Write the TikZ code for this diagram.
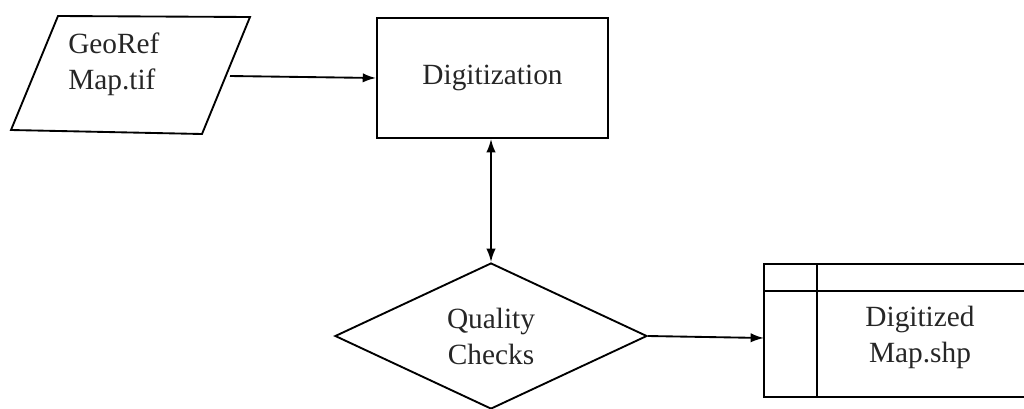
\documentclass[tikz,border=0pt]{standalone}
\usepackage{fontspec}
\setmainfont{Liberation Serif}
\usetikzlibrary{shapes.geometric,arrows.meta}
\begin{document}
\begin{tikzpicture}[x=0.75pt,y=-0.75pt,
  shapeline/.style={draw=black,line width=1.4pt},
  lbl/.style={font=\fontsize{22}{27}\selectfont,text=black!85,align=center,inner sep=0pt},
  arr/.style={line width=1.4pt,-{Latex[length=10pt,width=7pt]}},
  darr/.style={line width=1.4pt,{Latex[length=10pt,width=7pt]}-{Latex[length=10pt,width=7pt]}}]
\useasboundingbox (0,0) rectangle (1024,408);
\begin{scope}
\clip (0,0) rectangle (1024,408);
% parallelogram input
\draw[shapeline] (58,16) -- (250,17) -- (202,134) -- (11,130) -- cycle;
\node[lbl,align=left,anchor=west] (geo) at (68,64) {GeoRef\\Map.tif};
\coordinate (geoout) at (230,76);
% digitization
\node[shapeline,rectangle,minimum width=231*0.75pt,minimum height=120*0.75pt,lbl,inner sep=0pt] (dig) at (492.5,78) {Digitization};
% diamond
\node[shapeline,diamond,minimum width=312*0.75pt,minimum height=146*0.75pt,lbl,inner sep=0pt] (qc) at (491,336) {Quality\\Checks};
% output table
\draw[shapeline] (1040,264) -- (764,264) -- (764,397) -- (1040,397);
\draw[shapeline] (764,291) -- (1040,291);
\draw[shapeline] (817,264) -- (817,397);
\node[lbl] (shp) at (920,337) {Digitized\\Map.shp};
\coordinate (shpin) at (764,338);
\end{scope}
\draw[arr] (geoout) -- (dig.west);
\draw[darr] (dig.south -| qc.north) -- (qc.north);
\draw[arr] (qc.east) -- (shpin);
\end{tikzpicture}
\end{document}
